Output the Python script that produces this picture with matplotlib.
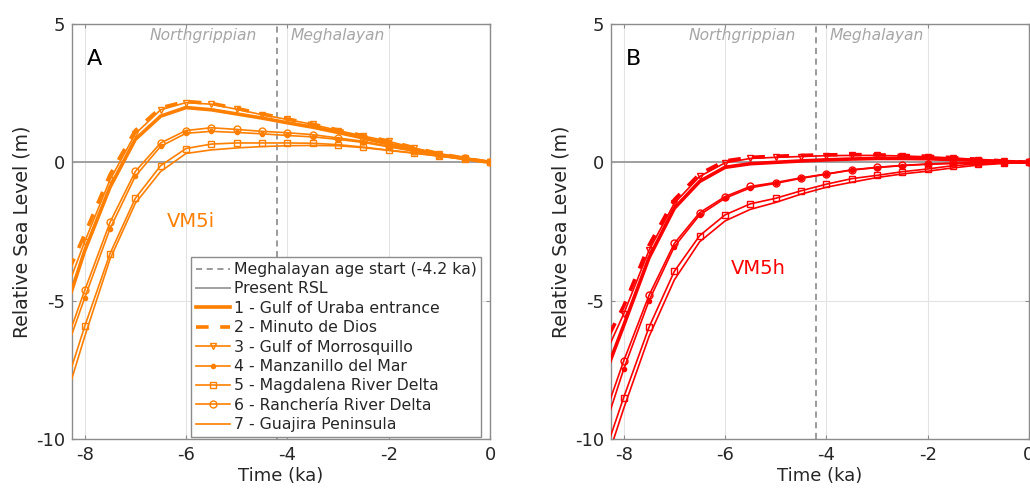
"""Relative sea level curves for seven Colombian Caribbean sites, VM5i and VM5h."""

import matplotlib

matplotlib.use("Agg")
import matplotlib.pyplot as plt


TIME_KA = [-8.5, -8.0, -7.5, -7.0, -6.5, -6.0, -5.5, -5.0, -4.5, -4.0,
           -3.5, -3.0, -2.5, -2.0, -1.5, -1.0, -0.5, 0.0]

SITE_LABELS = [
    "1 - Gulf of Uraba entrance",
    "2 - Minuto de Dios",
    "3 - Gulf of Morrosquillo",
    "4 - Manzanillo del Mar",
    "5 - Magdalena River Delta",
    "6 - Ranchería River Delta",
    "7 - Guajira Peninsula",
]

# panel A, VM5i
VM5I_SITE1 = [-6.0, -3.2, -0.9, 0.83, 1.67, 1.98, 1.9, 1.75, 1.6, 1.43, 1.27, 1.08, 0.88, 0.66, 0.47, 0.28, 0.13, 0.0]
VM5I_SITE2 = [-4.7, -2.6, -0.45, 1.15, 1.97, 2.2, 2.13, 1.95, 1.75, 1.57, 1.38, 1.17, 0.96, 0.77, 0.53, 0.31, 0.15, 0.0]
VM5I_SITE3 = [-5.3, -2.87, -0.63, 1.03, 1.9, 2.16, 2.1, 1.92, 1.72, 1.55, 1.37, 1.15, 0.95, 0.76, 0.52, 0.3, 0.15, 0.0]
VM5I_SITE4 = [-7.5, -4.9, -2.4, -0.5, 0.58, 1.05, 1.12, 1.08, 1.03, 0.97, 0.92, 0.83, 0.72, 0.56, 0.4, 0.26, 0.13, 0.0]
VM5I_SITE5 = [-8.8, -5.93, -3.3, -1.3, -0.12, 0.5, 0.66, 0.7, 0.7, 0.7, 0.69, 0.64, 0.55, 0.44, 0.34, 0.23, 0.12, 0.0]
VM5I_SITE6 = [-7.2, -4.63, -2.17, -0.33, 0.7, 1.15, 1.25, 1.19, 1.12, 1.07, 1.0, 0.88, 0.76, 0.58, 0.42, 0.27, 0.14, 0.0]
VM5I_SITE7 = [-9.3, -6.3, -3.5, -1.48, -0.33, 0.32, 0.45, 0.52, 0.57, 0.6, 0.61, 0.6, 0.53, 0.43, 0.33, 0.22, 0.11, 0.0]

# panel B, VM5h
VM5H_SITE1 = [-8.3, -5.9, -3.45, -1.66, -0.69, -0.18, -0.05, 0.0, 0.05, 0.09, 0.12, 0.14, 0.14, 0.13, 0.1, 0.07, 0.03, 0.0]
VM5H_SITE2 = [-7.0, -5.2, -3.0, -1.35, -0.42, 0.05, 0.18, 0.22, 0.25, 0.27, 0.28, 0.27, 0.25, 0.22, 0.17, 0.11, 0.05, 0.0]
VM5H_SITE3 = [-7.5, -5.48, -3.18, -1.48, -0.51, -0.02, 0.14, 0.18, 0.21, 0.24, 0.25, 0.25, 0.23, 0.2, 0.16, 0.1, 0.05, 0.0]
VM5H_SITE4 = [-10.3, -7.48, -5.0, -3.05, -1.9, -1.3, -0.92, -0.76, -0.58, -0.43, -0.28, -0.19, -0.12, -0.07, -0.04, -0.02, -0.01, 0.0]
VM5H_SITE5 = [-11.2, -8.5, -5.96, -3.94, -2.65, -1.9, -1.5, -1.3, -1.03, -0.79, -0.59, -0.47, -0.34, -0.24, -0.12, -0.06, -0.02, 0.0]
VM5H_SITE6 = [-9.8, -7.18, -4.81, -2.93, -1.82, -1.24, -0.87, -0.73, -0.56, -0.42, -0.27, -0.18, -0.11, -0.06, -0.03, -0.01, 0.0, 0.0]
VM5H_SITE7 = [-11.7, -8.9, -6.3, -4.25, -2.87, -2.12, -1.7, -1.45, -1.15, -0.9, -0.72, -0.55, -0.42, -0.32, -0.2, -0.1, -0.04, 0.0]

MEGHALAYAN_START = -4.2
X_TICKS = [-8, -6, -4, -2, 0]
Y_TICKS = [-10, -5, 0, 5]

ORANGE = "#FF7F00"
RED = "#FF0000"
SPINE_GRAY = "#8C8C8C"
TEXT_DARK = "#262626"
ERA_GRAY = "#A6A6A6"

SITE_STYLES = [
    dict(linestyle="-", linewidth=2.6, marker=None),
    dict(linestyle=(0, (3.5, 3.2)), linewidth=2.6, marker=None),
    dict(linestyle="-", linewidth=1.2, marker="v", markersize=5, markerfacecolor="none"),
    dict(linestyle="-", linewidth=1.2, marker=".", markersize=6),
    dict(linestyle="-", linewidth=1.2, marker="s", markersize=4, markerfacecolor="none"),
    dict(linestyle="-", linewidth=1.2, marker="o", markersize=5, markerfacecolor="none"),
    dict(linestyle="-", linewidth=1.2, marker=None),
]


def draw_panel(ax, series, color, letter, model, model_xy, with_legend):
    ax.grid(True, color="#E3E3E3", linewidth=0.8)
    ax.set_axisbelow(True)
    ax.axvline(MEGHALAYAN_START, color="#7F7F7F", linestyle=(0, (4, 3)), linewidth=1.1,
               label="Meghalayan age start (-4.2 ka)", zorder=2)
    ax.axhline(0, color="#A0A0A0", linewidth=1.4, label="Present RSL", zorder=2)
    for values, label, style in zip(series, SITE_LABELS, SITE_STYLES):
        ax.plot(TIME_KA, values, color=color, label=label, zorder=3, **style)

    ax.set_xlim(-8.25, 0)
    ax.set_ylim(-10, 5)
    ax.set_xticks(X_TICKS)
    ax.set_yticks(Y_TICKS)
    ax.tick_params(direction="in", length=3, top=True, right=True, color=SPINE_GRAY,
                   labelsize=13, labelcolor=TEXT_DARK, pad=5)
    for spine in ax.spines.values():
        spine.set_color(SPINE_GRAY)
        spine.set_linewidth(1.0)
    ax.set_xlabel("Time (ka)", fontsize=13, color=TEXT_DARK, labelpad=2)
    ax.set_ylabel("Relative Sea Level (m)", fontsize=13.6, color=TEXT_DARK, labelpad=3)

    ax.text(0.035, 0.94, letter, transform=ax.transAxes, fontsize=16, color="black",
            ha="left", va="top")
    ax.text(model_xy[0], model_xy[1], model, fontsize=14, color=color, ha="center", va="center")
    ax.text(MEGHALAYAN_START - 0.4, 4.6, "Northgrippian", style="italic", fontsize=11.2,
            color=ERA_GRAY, ha="right", va="center")
    ax.text(MEGHALAYAN_START + 0.27, 4.6, "Meghalayan", style="italic", fontsize=11.2,
            color=ERA_GRAY, ha="left", va="center")

    if with_legend:
        leg = ax.legend(loc="lower right", bbox_to_anchor=(0.979, 0.005), borderaxespad=0,
                        fontsize=11.3, handlelength=2.2, handletextpad=0.2, labelspacing=0.28,
                        borderpad=0.3, fancybox=False, framealpha=1, numpoints=1)
        leg.get_frame().set_edgecolor(SPINE_GRAY)
        leg.get_frame().set_linewidth(1.0)
        for text in leg.get_texts():
            text.set_color(TEXT_DARK)


def main() -> None:
    plt.rcParams["axes.unicode_minus"] = False
    fig = plt.figure(figsize=(10.30, 4.91), dpi=100)
    ax_a = fig.add_axes([72 / 1030, 52 / 491, 418 / 1030, 415 / 491])
    ax_b = fig.add_axes([611 / 1030, 52 / 491, 418 / 1030, 415 / 491])

    vm5i = [VM5I_SITE1, VM5I_SITE2, VM5I_SITE3, VM5I_SITE4, VM5I_SITE5, VM5I_SITE6, VM5I_SITE7]
    vm5h = [VM5H_SITE1, VM5H_SITE2, VM5H_SITE3, VM5H_SITE4, VM5H_SITE5, VM5H_SITE6, VM5H_SITE7]
    draw_panel(ax_a, vm5i, ORANGE, "A", "VM5i", (-5.9, -2.15), True)
    draw_panel(ax_b, vm5h, RED, "B", "VM5h", (-5.35, -3.85), False)

    fig.savefig("out.png", dpi=100)
    plt.close(fig)


if __name__ == "__main__":
    main()
